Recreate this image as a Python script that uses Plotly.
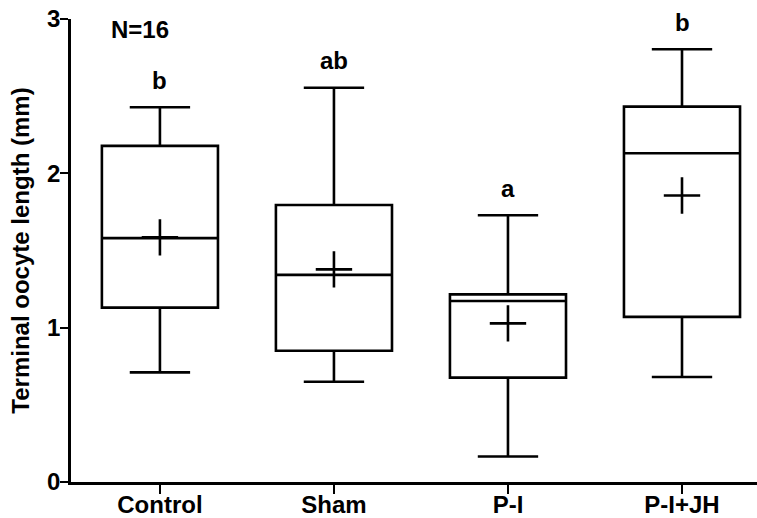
import plotly.graph_objects as go

categories = ["Control", "Sham", "P-I", "P-I+JH"]
lower_whisker = [0.71, 0.65, 0.165, 0.68]
q1_values = [1.13, 0.85, 0.676, 1.07]
median_values = [1.58, 1.342, 1.173, 2.13]
q3_values = [2.178, 1.795, 1.216, 2.432]
upper_whisker = [2.428, 2.555, 1.728, 2.804]
mean_values = [1.585, 1.378, 1.028, 1.856]
letters = ["b", "ab", "a", "b"]
y_ticks = [0, 1, 2, 3]

FONT = "Liberation Sans, Arial, sans-serif"
FS = 24
fig = go.Figure()

fig.add_trace(go.Box(
    x=categories,
    lowerfence=lower_whisker,
    q1=q1_values,
    median=median_values,
    q3=q3_values,
    upperfence=upper_whisker,
    width=0.667,
    whiskerwidth=0.52,
    fillcolor="white",
    line=dict(color="black", width=2.6),
    boxpoints=False,
    hoverinfo="skip",
    showlegend=False,
))

fig.add_trace(go.Scatter(
    x=categories,
    y=mean_values,
    mode="markers",
    marker=dict(symbol="cross-thin", size=26, color="black",
                line=dict(color="black", width=2.6)),
    showlegend=False,
    hoverinfo="skip",
))

for c, u, t in zip(categories, upper_whisker, letters):
    fig.add_annotation(x=c, y=u, text=t, showarrow=False, yshift=27,
                       yanchor="middle", xanchor="center",
                       font=dict(family=FONT, size=FS, color="black", weight="bold"))

fig.add_annotation(x=0.1006, y=0.978, xref="paper", yref="paper", text="N=16",
                   showarrow=False, xanchor="center", yanchor="middle",
                   font=dict(family=FONT, size=FS, color="black", weight="bold"))

fig.update_layout(
    width=757, height=518,
    margin=dict(l=71, r=0, t=19, b=36),
    plot_bgcolor="white", paper_bgcolor="white",
    font=dict(family=FONT, size=FS, color="black", weight="bold"),
    xaxis=dict(
        type="category",
        range=[-0.511, 3.431],
        automargin=False,
        showline=True, linecolor="black", linewidth=2.6,
        ticks="outside", ticklen=9, tickwidth=2.4, tickcolor="black",
        ticklabelstandoff=-10,
        showgrid=False, zeroline=False,
        tickfont=dict(family=FONT, size=FS, color="black", weight="bold"),
    ),
    yaxis=dict(
        range=[0, 3],
        tickvals=y_ticks,
        automargin=False,
        showline=True, linecolor="black", linewidth=2.6,
        ticks="outside", ticklen=8, tickwidth=2.4, tickcolor="black",
        ticklabelstandoff=-5,
        showgrid=False, zeroline=False,
        tickfont=dict(family=FONT, size=FS, color="black", weight="bold"),
        title=dict(text="Terminal oocyte length (mm)", standoff=11,
                   font=dict(family=FONT, size=FS, color="black", weight="bold")),
    ),
)

fig.write_html("out.html")
